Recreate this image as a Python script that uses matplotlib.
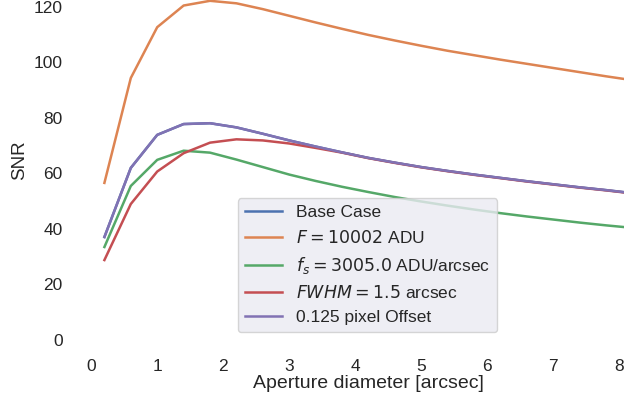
import matplotlib
matplotlib.use("Agg")
import matplotlib.pyplot as plt

# aperture diameters [arcsec]
aperture = [0.2, 0.6, 1.0, 1.4, 1.8, 2.2, 2.6, 3.0, 3.4, 3.8, 4.2,
            4.6, 5.0, 5.4, 5.8, 6.2, 6.6, 7.0, 7.4, 7.8, 8.2]

snr_base = [37.1, 62.0, 73.9, 77.8, 78.1, 76.6, 74.3, 71.9, 69.7, 67.6, 65.6,
            63.9, 62.3, 60.9, 59.6, 58.4, 57.2, 56.1, 55.0, 54.0, 52.9]
snr_flux = [56.6, 94.4, 112.7, 120.5, 122.2, 121.3, 119.2, 116.8, 114.4, 112.1, 109.9,
            107.9, 106.0, 104.2, 102.6, 101.0, 99.5, 98.0, 96.5, 95.0, 93.6]
snr_sky = [33.5, 55.5, 64.9, 68.2, 67.5, 65.0, 62.3, 59.6, 57.3, 55.2, 53.3,
           51.5, 49.9, 48.4, 47.0, 45.7, 44.5, 43.4, 42.3, 41.3, 40.4]
snr_fwhm = [28.8, 49.0, 60.7, 67.3, 71.1, 72.3, 71.9, 70.8, 69.2, 67.5, 65.5,
            63.8, 62.2, 60.8, 59.5, 58.3, 57.1, 56.0, 54.9, 53.9, 52.8]
snr_offset = snr_base

labels = ["Base Case", r"$F = 10002$ ADU", r"$f_s = 3005.0$ ADU/arcsec",
          r"$FWHM = 1.5$ arcsec", "0.125 pixel Offset"]
colors = ["#4C72B0", "#DD8452", "#55A868", "#C44E52", "#8172B3"]

plt.rcParams["font.family"] = ["Liberation Sans", "DejaVu Sans"]
plt.rcParams["mathtext.fontset"] = "dejavusans"
plt.rcParams["text.color"] = "#262626"

fig = plt.figure(figsize=(6.24, 4.0), dpi=100)
# the axes run past the right and top edges, as in the cropped original
ax = fig.add_axes([0.125, 0.15, 0.931, 0.90])

series = [snr_base, snr_flux, snr_sky, snr_fwhm, snr_offset]
for values, label, color in zip(series, labels, colors):
    ax.plot(aperture, values, color=color, linewidth=1.8, label=label)

ax.set_xlim(-0.2, 8.6)
ax.set_ylim(0, 129.7)
ax.set_xticks(range(0, 9))
ax.set_yticks(range(0, 121, 20))
ax.set_xlabel("Aperture diameter [arcsec]", fontsize=14, color="#262626", labelpad=1)
ax.set_ylabel("SNR", fontsize=13.5, color="#262626", labelpad=4)
ax.tick_params(length=0, labelsize=12.5, labelcolor="#262626", pad=11)
ax.tick_params(axis="x", pad=13.5)
for spine in ax.spines.values():
    spine.set_visible(False)

leg = ax.legend(loc="lower left", bbox_to_anchor=(0.2754, 0.022), borderaxespad=0,
                fontsize=12.5, facecolor="#EAEAF2", edgecolor="#CCCCCC",
                framealpha=0.8, handlelength=2.15, labelspacing=0.5)

fig.savefig("out.png", dpi=100)
